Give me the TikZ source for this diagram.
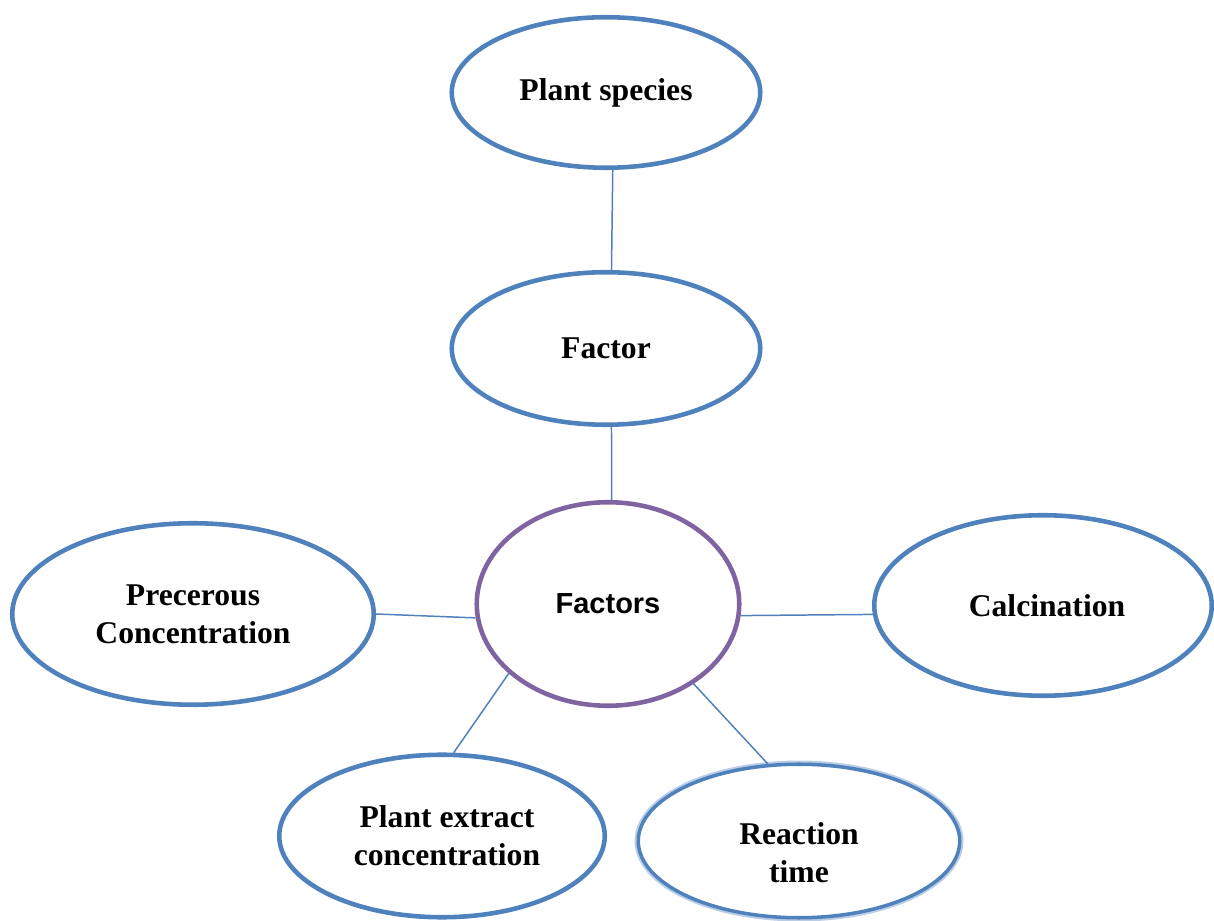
\documentclass[tikz,border=0pt]{standalone}
\usepackage{fontspec}
\setmainfont{Liberation Serif}
\setsansfont{Liberation Sans}
\usetikzlibrary{shapes.geometric}

\definecolor{ovalblue}{HTML}{4F81BD}
\definecolor{ovalpurple}{HTML}{8064A2}

\tikzset{
  oval/.style={ellipse, draw=ovalblue, line width=2.6pt, fill=white, inner sep=0pt,
    align=center, font=\bfseries\fontsize{18}{21.5}\selectfont},
  hub/.style={oval, draw=ovalpurple, font=\sffamily\bfseries\fontsize{16.5}{20}\selectfont},
  soft/.style={oval, line width=2pt, preaction={draw=ovalblue!40, line width=4.2pt}},
  link/.style={draw=ovalblue, line width=0.85pt}
}

\begin{document}
\begin{tikzpicture}

\useasboundingbox (0,0) rectangle (24.28,18.42);

% Central node and the chain above it
\node[hub, minimum width=5.25cm, minimum height=4.07cm] (factors) at (12.16,6.34) {Factors};
\node[oval, minimum width=6.17cm, minimum height=3.05cm] (factor) at (12.12,11.45) {Factor};
\node[oval, minimum width=6.17cm, minimum height=3.01cm] (species) at (12.12,16.57) {Plant species};

% Nodes round the centre
\node[oval, minimum width=7.23cm, minimum height=3.63cm] (precursor) at (3.86,6.14) {Precerous\\Concentration};
\node[oval, minimum width=6.75cm, minimum height=3.61cm] (calcination) at (20.86,6.31) {\hspace*{0.16cm}Calcination};
\node[oval, minimum width=6.51cm, minimum height=3.25cm] (extract) at (8.84,1.70) {\hspace*{0.2cm}Plant extract\\\hspace*{0.2cm}concentration};
\node[soft, minimum width=6.43cm, minimum height=3.07cm] (reaction) at (15.98,1.60)
  {\raisebox{-0.23cm}[\height][\depth]{\parbox{4cm}{\centering Reaction\\time}}};

% Connectors
\draw[link] (species.275) -- (factor.86);
\draw[link] (factor.274) -- (factors.88);
\draw[link] (precursor.east) -- (factors.186);
\draw[link] (factors.355) -- (calcination.183);
\draw[link] (factors.215) -- (extract.82);
\draw[link] (factors.317) -- (reaction.112);

\end{tikzpicture}
\end{document}
